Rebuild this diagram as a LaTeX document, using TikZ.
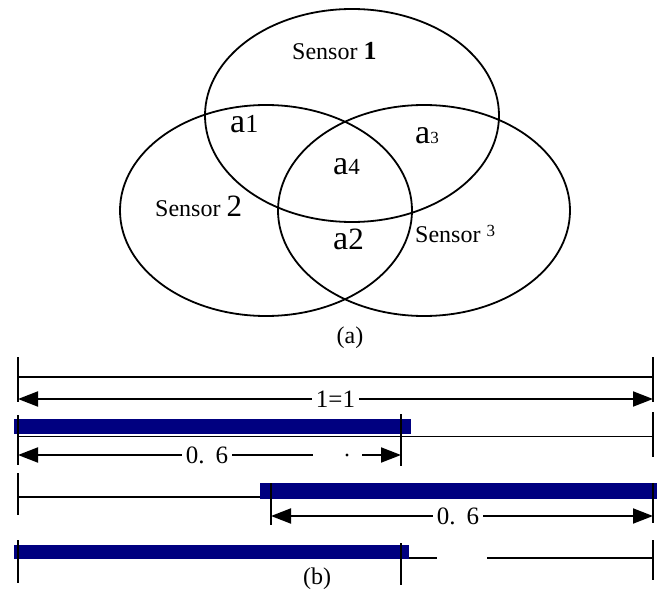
\documentclass[tikz,border=0pt]{standalone}
\usepackage{fontspec}
\setmainfont{Liberation Serif}
\usetikzlibrary{arrows.meta}
\definecolor{barblue}{RGB}{0,0,128}
\tikzset{
  sensor/.style={line width=1.8pt},
  tick/.style={line width=1.9pt},
  thinline/.style={line width=1.7pt},
  bar/.style={fill=barblue},
  dimline/.style={line width=1.9pt, {Triangle[length=20pt,width=15pt]}-{Triangle[length=20pt,width=15pt]}},
  dimstart/.style={line width=1.9pt, {Triangle[length=20pt,width=15pt]}-},
  dimend/.style={line width=1.9pt, -{Triangle[length=20pt,width=15pt]}},
  dimlabel/.style={fill=white, inner sep=4pt, font=\fontsize{25}{25}\selectfont},
  area/.style={anchor=base west, inner sep=0pt, font=\fontsize{34}{34}\selectfont},
  sname/.style={anchor=base west, inner sep=0pt, font=\fontsize{24}{24}\selectfont},
  caption/.style={anchor=base, inner sep=0pt, font=\fontsize{24}{24}\selectfont}
}
\newcommand{\sz}[2]{{\fontsize{#1}{#1}\selectfont #2}}

\begin{document}
\begin{tikzpicture}[x=1pt, y=-1pt]
  \useasboundingbox (0,0) rectangle (665,591);

  % Sensor coverage areas
  \draw[sensor] (352,115.5) ellipse [x radius=147pt, y radius=106.5pt];
  \draw[sensor] (266,210.5) ellipse [x radius=146pt, y radius=105.5pt];
  \draw[sensor] (424,210.5) ellipse [x radius=146pt, y radius=105.5pt];

  \node[sname] (s1) at (292,60) {Sensor \sz{26}{\textbf{1}}};
  \node[sname] (s2) at (155,217) {Sensor \sz{31}{2}};
  \node[sname] (s3) at (415,243) {Sensor \raisebox{6pt}{\sz{17}{3}}};

  % Overlap regions
  \node[area] (a1) at (230,133) {a\sz{26}{1}};
  \node[area] (a3) at (415,144) {a\sz{17}{3}};
  \node[area] (a4) at (333,175) {a\sz{23}{4}};
  \node[area] (a2) at (333,250) {a\sz{31}{2}};

  \node[caption] (capa) at (350,343) {(a)};

  % Full length l = 1
  \draw[tick] (18,357) -- (18,402);
  \draw[tick] (653,357) -- (653,402);
  \draw[thinline] (18,377) -- (653,377);
  \coordinate (l1) at (18,399);
  \coordinate (r1) at (653,399);
  \draw[dimline] (l1) -- (r1) node[dimlabel, midway] (len) {1=1};

  % First segment from the left
  \draw[thinline] (18,436.5) -- (653,436.5);
  \fill[bar] (14,419) rectangle (411,434);
  \draw[tick] (18,415) -- (18,465);
  \draw[tick] (401,414) -- (401,466);
  \draw[tick] (653,412) -- (653,457);
  \coordinate (l2) at (18,455);
  \coordinate (g2a) at (313,455);
  \coordinate (g2b) at (362,455);
  \coordinate (m2) at (401,455);
  \draw[dimstart] (l2) -- (g2a);
  \draw[dimend] (g2b) -- (m2);
  \node[circle, fill, inner sep=1.2pt] (dot) at (347,455) {};
  \node[dimlabel] (len2) at (207,455) {0.\hspace{0.45em}6};

  % Segment from the right
  \draw[tick] (18,473) -- (18,515);
  \draw[thinline] (18,497) -- (260,497);
  \fill[bar] (260,483) rectangle (657,499);
  \draw[tick] (271,483) -- (271,525);
  \draw[tick] (653,483) -- (653,523);
  \coordinate (l3) at (271,516);
  \coordinate (r3) at (653,516);
  \draw[dimline] (l3) -- (r3);
  \node[dimlabel] (len3) at (458,516) {0.\hspace{0.45em}6};

  % Segment with a gap on the right
  \fill[bar] (14,545) rectangle (409,559);
  \draw[thinline] (409,558) -- (437,558);
  \draw[thinline] (487,558) -- (653,558);
  \draw[tick] (18,540) -- (18,583);
  \draw[tick] (401,543) -- (401,585);
  \draw[tick] (653,540) -- (653,580);

  \node[caption] (capb) at (317,584) {(b)};
\end{tikzpicture}
\end{document}
